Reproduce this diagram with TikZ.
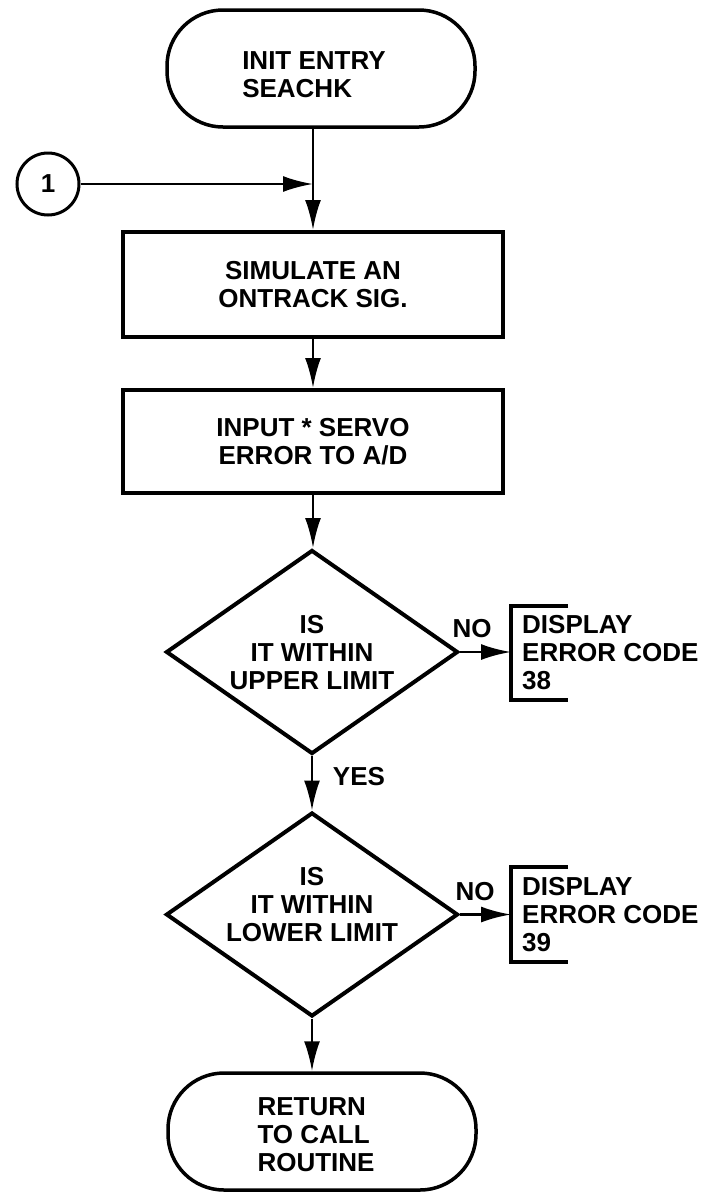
\documentclass[tikz,border=0pt]{standalone}
\usepackage{fontspec}
\setmainfont{Liberation Sans}
\usetikzlibrary{shapes.geometric,arrows.meta}
\tikzset{
  every node/.style={font=\fontsize{26}{28}\selectfont\bfseries},
  term/.style={draw,line width=3.5pt,rounded corners=56pt,minimum width=308pt,minimum height=117pt,inner sep=0pt},
  procbox/.style={draw,line width=4pt,minimum width=380pt,align=center,inner sep=0pt},
  dec/.style={draw,diamond,line width=4pt,minimum width=292pt,minimum height=204pt,inner sep=0pt},
  dtext/.style={align=center,inner sep=0pt},
  ttext/.style={align=left,inner sep=0pt},
  disp/.style={align=left,inner xsep=11pt,inner ysep=0pt,minimum height=94pt},
  bracket/.style={line width=4pt},
  conn/.style={line width=2.6pt,-{Latex[length=30pt,width=16pt]}},
  lbl/.style={inner sep=0pt},
  conncircle/.style={draw,circle,line width=3pt,minimum size=62pt,inner sep=0pt}
}
\begin{document}
\begin{tikzpicture}[x=1pt,y=-1pt]
\useasboundingbox (0,0) rectangle (723,1192);
% nodes
\node[term,label={[ttext,xshift=-7pt,yshift=-6pt]center:{INIT ENTRY\\SEACHK}}] (t1) at (321,68.5) {};
\node[conncircle] (c1) at (48,184) {1};
\node[procbox,minimum height=105pt] (b1) at (313,284.5) {SIMULATE AN\\ONTRACK SIG.};
\node[procbox,minimum height=103pt] (b2) at (313,441.5) {INPUT * SERVO\\ERROR TO A/D};
\node[dec,label={[dtext,yshift=-1pt]center:{IS\\IT WITHIN\\UPPER LIMIT}}] (d1) at (312,652) {};
\node[dec,label={[dtext,yshift=10pt]center:{IS\\IT WITHIN\\LOWER LIMIT}}] (d2) at (312,914.5) {};
\node[term,label={[ttext,xshift=-6pt,yshift=-3pt]center:{RETURN\\TO CALL\\ROUTINE}}] (t2) at (322,1131.5) {};
\node[disp,anchor=west] (e1) at (511,653) {DISPLAY\\ERROR CODE\\38};
\node[disp,anchor=west] (e2) at (511,914.5) {DISPLAY\\ERROR CODE\\39};
\node[lbl] (no1) at (472,629) {NO};
\node[lbl] (no2) at (475,892) {NO};
\node[lbl] (yes) at (359,777) {YES};
% brackets
\draw[bracket] ([xshift=57pt]e1.north west) -- (e1.north west) -- (e1.south west) -- ([xshift=57pt]e1.south west);
\draw[bracket] ([xshift=57pt]e2.north west) -- (e2.north west) -- (e2.south west) -- ([xshift=57pt]e2.south west);
% connectors
\draw[conn] (t1.south -| b1.north) -- (b1.north);
\draw[conn] (c1.east) -- (c1.east -| b1.north);
\draw[conn] (b1.south) -- (b2.north -| b1.south);
\draw[conn] (b2.south) -- (d1.north -| b2.south);
\draw[conn] (d1.south) -- (d2.north);
\draw[conn] (d1.east) -- (d1.east -| e1.west);
\draw[conn] (d2.east) -- (d2.east -| e2.west);
\draw[conn] (d2.south) -- (t2.north -| d2.south);
\end{tikzpicture}
\end{document}
